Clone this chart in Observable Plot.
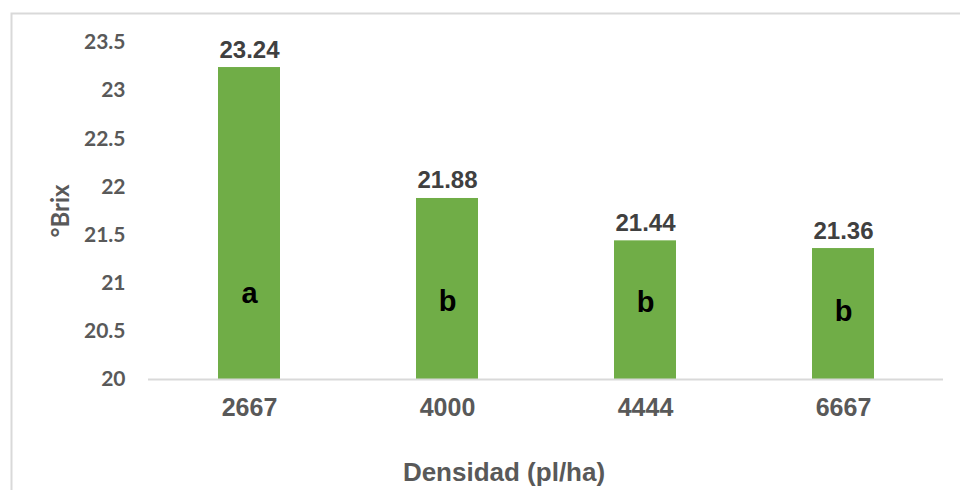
<!DOCTYPE html>
<html>
<head>
<meta charset="utf-8">
<script src="https://cdn.jsdelivr.net/npm/d3@7"></script>
<script src="https://cdn.jsdelivr.net/npm/@observablehq/plot@0.6"></script>
<style>
  html, body { margin: 0; padding: 0; background: #fff; }
</style>
</head>
<body>
<div id="chart"></div>
<script>
// Planting density (plants per hectare) and mean °Brix
const densities = ["2667", "4000", "4444", "6667"];
const brix = [23.24, 21.88, 21.44, 21.36];
// Significance groups and the °Brix level where each letter sits
const groups = ["a", "b", "b", "b"];
const groupY = [20.79, 20.71, 20.70, 20.61];
const yTicks = [20, 20.5, 21, 21.5, 22, 22.5, 23, 23.5];

const rows = densities.map((d, i) => ({density: d, brix: brix[i], group: groups[i], gy: groupY[i]}));

const sans = "'Liberation Sans', Arial, sans-serif";
const calib = "Lato, 'Open Sans', sans-serif";

const chart = Plot.plot({
  width: 960,
  height: 490,
  marginLeft: 148,
  marginRight: 17,
  marginTop: 42,
  marginBottom: 111,
  x: {domain: densities, paddingInner: 0.688, paddingOuter: 0.344},
  y: {domain: [20, 23.5]},
  marks: [
    Plot.frame({stroke: "#d9d9d9", strokeWidth: 2, insetLeft: -137, insetTop: -29, insetRight: -40, insetBottom: -140}),
    Plot.barY(rows, {x: "density", y1: 20, y2: "brix", fill: "#70AD47"}),
    Plot.ruleY([20], {stroke: "#d9d9d9", strokeWidth: 2}),
    Plot.axisY({ticks: yTicks, tickSize: 0, tickPadding: 23, tickFormat: d => String(d),
      label: null, fontSize: 21, fontWeight: "bold", fontFamily: calib, color: "#595959"}),
    Plot.axisX({tickSize: 0, tickPadding: 19, label: null, fontSize: 25, fontWeight: "bold",
      fontFamily: sans, color: "#595959"}),
    Plot.text(rows, {x: "density", y: "brix", text: d => d.brix.toFixed(2), lineAnchor: "bottom", dy: -10,
      fontSize: 24, fontWeight: "bold", fontFamily: sans, fill: "#404040"}),
    Plot.text(rows, {x: "density", y: "gy", text: "group", lineAnchor: "bottom",
      fontSize: 29, fontWeight: "bold", fontFamily: sans, fill: "#000"}),
    Plot.text(["°Brix"], {frameAnchor: "left", textAnchor: "middle", dx: -87, rotate: -90, fontSize: 24,
      fontWeight: "bold", fontFamily: calib, fill: "#595959", letterSpacing: 1.5}),
    Plot.text(["Densidad (pl/ha)"], {frameAnchor: "bottom", dx: -42, dy: 101, lineAnchor: "bottom",
      fontSize: 26, fontWeight: "bold", fontFamily: sans, fill: "#595959"})
  ]
});
document.getElementById("chart").appendChild(chart);
</script>
</body>
</html>
